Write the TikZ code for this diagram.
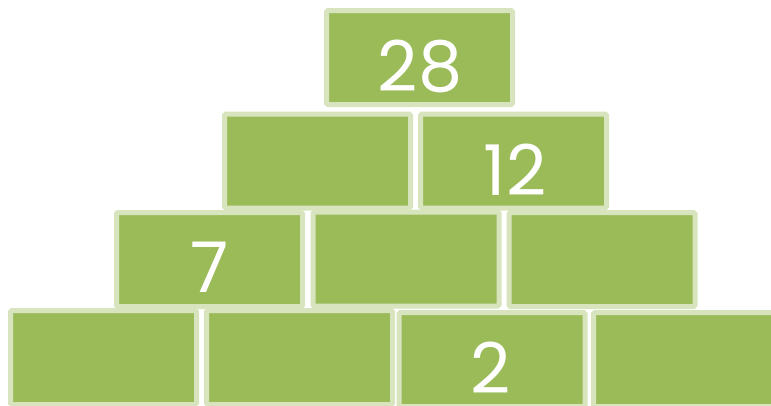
\documentclass[tikz,border=0pt]{standalone}
\usepackage{fontspec}
\setmainfont{Poppins}
\definecolor{brickfill}{HTML}{9BBB59}
\definecolor{brickedge}{HTML}{D7E4BD}
\begin{document}
\begin{tikzpicture}[x=1pt,y=-1pt,
  brick/.style={draw=brickedge,fill=brickfill,line width=5pt,rounded corners=1.5pt,
    inner sep=0pt,minimum width=186pt,minimum height=94pt},
  num/.style={inner sep=0pt,text=white,font=\fontsize{70}{70}\selectfont}]
\useasboundingbox (0,0) rectangle (771,405);
\clip (0,0) rectangle (771,405);
% top
\node[brick] (b1) at (419.5,57.5) {};
% row 2
\node[brick] (b21) at (317.5,161) {};
\node[brick] (b22) at (513.5,161) {};
% row 3
\node[brick] (b31) at (209.5,259.5) {};
\node[brick] (b32) at (406,259) {};
\node[brick] (b33) at (602,259.5) {};
% row 4
\node[brick] (b41) at (103.5,357.5) {};
\node[brick] (b42) at (299.5,357.5) {};
\node[brick] (b43) at (492,359.5) {};
\node[brick] (b44) at (686.5,359.5) {};
% numbers
\node[num] (t28) at (420,66) {28};
\node[num] (t12) at (515,170) {12};
\node[num] (t7) at (210,267) {7};
\node[num] (t2) at (491,368) {2};
\end{tikzpicture}
\end{document}
